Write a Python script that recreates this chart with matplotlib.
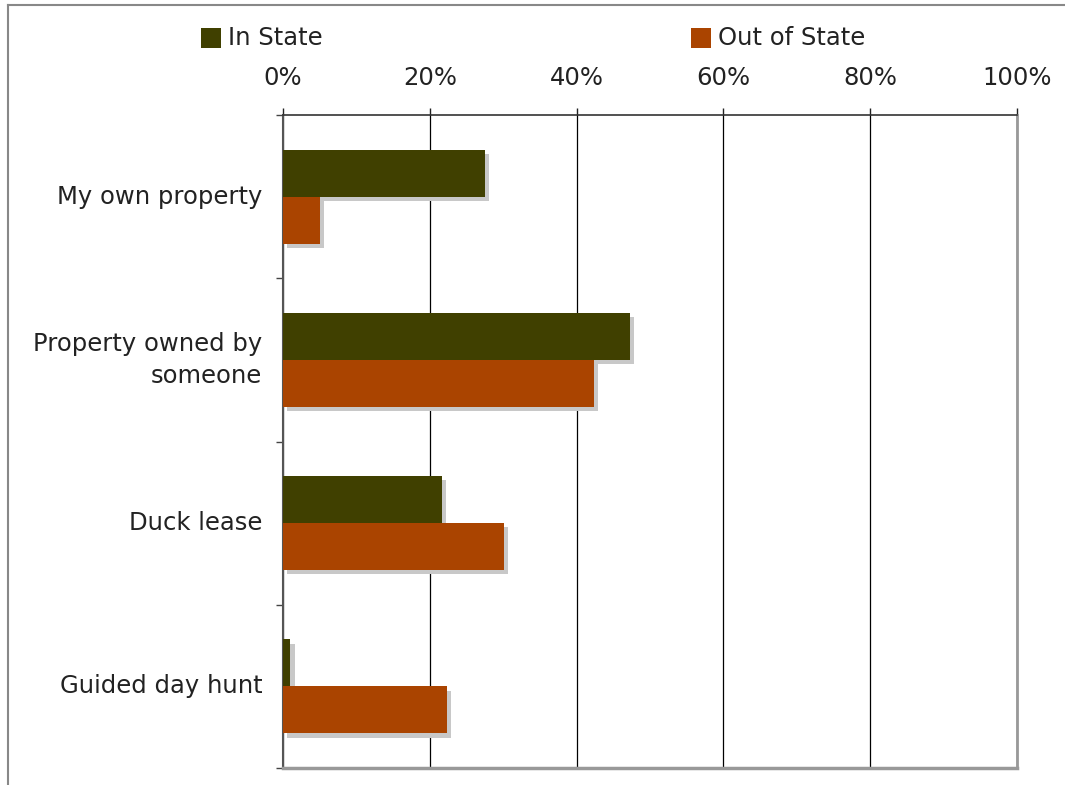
import matplotlib
matplotlib.use("Agg")
import matplotlib.pyplot as plt
import matplotlib.patheffects as pe
from matplotlib.patches import Rectangle
from matplotlib.lines import Line2D
import numpy as np

categories = ["My own property", "Property owned by\nsomeone", "Duck lease", "Guided day hunt"]
in_state = [27.5, 47.3, 21.7, 1.0]
out_state = [5.0, 42.4, 30.1, 22.3]
series_names = ["In State", "Out of State"]
colors = ["#404000", "#AA4400"]
x_ticks = [0, 20, 40, 60, 80, 100]
x_ticklabels = ["0%", "20%", "40%", "60%", "80%", "100%"]

W, H = 1065, 785
FS = 17.5
fig = plt.figure(figsize=(W / 100, H / 100), dpi=100)
plt.rcParams['font.family'] = ['DejaVu Sans']

ax = fig.add_axes([283 / W, 1 - 768 / H, (1017 - 283) / W, (768 - 115) / H])

y = np.arange(len(categories))
h = 0.288
shadow = [pe.SimplePatchShadow(offset=(3, -3), shadow_rgbFace="#c8c8c8", alpha=1.0), pe.Normal()]
for i in range(len(categories)):
    b1 = ax.barh(y[i] - h / 2, in_state[i], height=h, color=colors[0], zorder=3 + 2 * i)
    for p in b1:
        p.set_path_effects(shadow)
    b2 = ax.barh(y[i] + h / 2, out_state[i], height=h, color=colors[1], zorder=4 + 2 * i)
    for p in b2:
        p.set_path_effects(shadow)

ax.set_xlim(0, 100)
ax.set_ylim(3.5, -0.5)
ax.xaxis.tick_top()
ax.set_xticks(x_ticks)
ax.set_xticklabels(x_ticklabels, fontsize=FS, color="#222222")
ax.tick_params(axis="x", direction="out", length=5, width=1, pad=13, colors="#222222")
ax.grid(axis="x", color="black", linewidth=0.9, zorder=1)
ax.set_axisbelow(True)

ax.set_yticks(y)
ax.set_yticklabels(categories, fontsize=FS, color="#222222", ha="right",
                   multialignment="right", linespacing=1.4)
for lab in ax.get_yticklabels():
    lab.set_verticalalignment("center")
ax.tick_params(axis="y", which="major", length=0, pad=15)
ax.set_yticks(np.arange(-0.5, len(categories), 1.0), minor=True)
ax.tick_params(axis="y", which="minor", length=5, width=1, color="#444444", direction="out")

ax.spines["top"].set_color("#333333")
ax.spines["left"].set_color("#555555")
ax.spines["left"].set_linewidth(1.5)
ax.spines["bottom"].set_color("#999999")
ax.spines["bottom"].set_linewidth(2.5)
ax.spines["right"].set_color("#999999")
ax.spines["right"].set_linewidth(2.0)
ax.spines["top"].set_linewidth(1.2)

# Legend (manual, figure coordinates)
leg_x = [201, 691]
for lx, name, c in zip(leg_x, series_names, colors):
    fig.patches.append(Rectangle((lx / W, 1 - 48 / H), 20 / W, 20 / H, transform=fig.transFigure,
                                 facecolor=c, edgecolor="none"))
    fig.text((lx + 27) / W, 1 - 38 / H, name, fontsize=FS, color="#222222", va="center", ha="left")

# Outer frame
fig.lines.append(Line2D([8 / W, 1.0], [1 - 5 / H, 1 - 5 / H], transform=fig.transFigure, color="#888888", lw=1.5))
fig.lines.append(Line2D([8 / W, 8 / W], [0, 1 - 5 / H], transform=fig.transFigure, color="#888888", lw=1.5))

fig.savefig("out.png", dpi=100)
